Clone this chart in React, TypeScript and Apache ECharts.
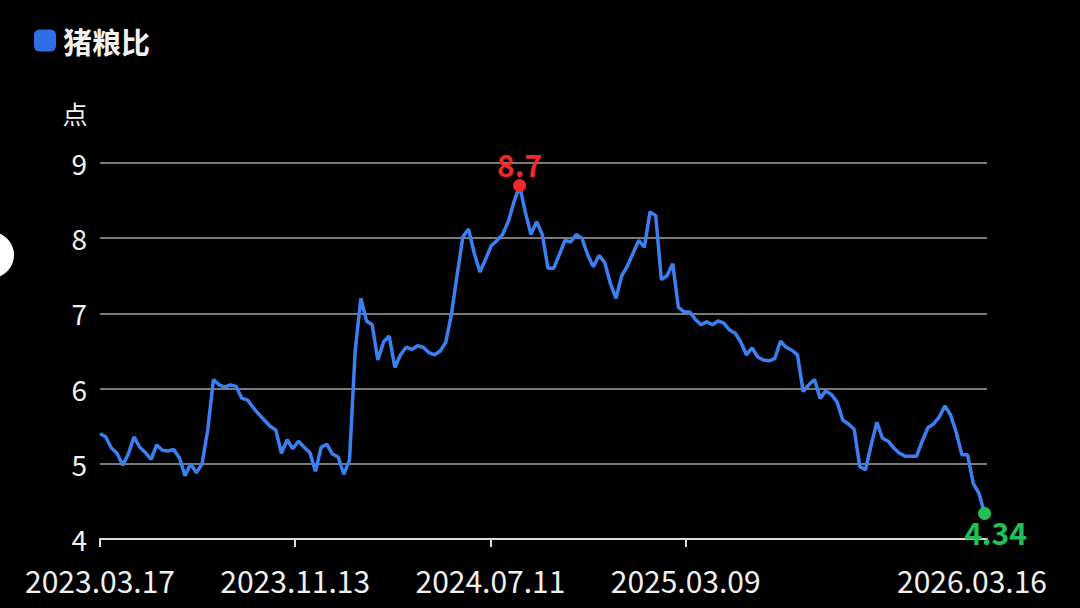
import React, { useEffect, useRef } from "react";
import * as echarts from "echarts";

// Weekly pig-grain ratio (猪粮比), first reading on 2023-03-17, one reading every 7 days
const SERIES_NAME = "猪粮比";
const Y_UNIT = "点";
const START_DATE = "2023-03-17";
const STEP_DAYS = 7;
const AXIS_END_DATE = "2026-03-16";
const X_LABEL_DATES = ["2023-03-17", "2023-11-13", "2024-07-11", "2025-03-09", "2026-03-16"];
const X_TICK_DATES = ["2023-03-17", "2023-11-13", "2024-07-11", "2025-03-09"];
const Y_MIN = 4;
const Y_MAX = 9;

const ratioValues = [
  5.40, 5.36, 5.21, 5.14, 4.98, 5.13, 5.36, 5.22, 5.15, 5.06,
  5.25, 5.18, 5.17, 5.19, 5.08, 4.84, 5.00, 4.88, 5.00, 5.45,
  6.12, 6.05, 6.02, 6.05, 6.03, 5.87, 5.85, 5.75, 5.66, 5.58,
  5.50, 5.45, 5.14, 5.32, 5.20, 5.30, 5.22, 5.15, 4.90, 5.22,
  5.26, 5.13, 5.09, 4.86, 5.05, 6.50, 7.20, 6.90, 6.85, 6.38,
  6.62, 6.70, 6.28, 6.45, 6.55, 6.52, 6.57, 6.55, 6.48, 6.45,
  6.50, 6.62, 7.00, 7.52, 8.02, 8.12, 7.80, 7.55, 7.72, 7.90,
  7.97, 8.05, 8.22, 8.48, 8.70, 8.35, 8.05, 8.22, 8.05, 7.60,
  7.60, 7.78, 7.97, 7.95, 8.05, 8.00, 7.78, 7.62, 7.77, 7.68,
  7.40, 7.20, 7.50, 7.63, 7.80, 7.97, 7.88, 8.35, 8.30, 7.45,
  7.50, 7.66, 7.08, 7.02, 7.02, 6.92, 6.85, 6.89, 6.85, 6.90,
  6.87, 6.78, 6.74, 6.62, 6.45, 6.54, 6.42, 6.38, 6.37, 6.40,
  6.63, 6.55, 6.51, 6.45, 5.96, 6.05, 6.12, 5.87, 5.97, 5.92,
  5.82, 5.58, 5.53, 5.46, 4.96, 4.92, 5.25, 5.55, 5.34, 5.30,
  5.21, 5.14, 5.10, 5.10, 5.10, 5.30, 5.48, 5.53, 5.62, 5.77,
  5.65, 5.42, 5.12, 5.12, 4.74, 4.61, 4.34,
];

const DAY_MS = 86400000;
const toTs = (s: string) => {
  const [y, m, d] = s.split("-").map(Number);
  return Date.UTC(y, m - 1, d);
};
const START_TS = toTs(START_DATE);
const toDay = (s: string) => Math.round((toTs(s) - START_TS) / DAY_MS);
const fmtDay = (day: number) => {
  const d = new Date(START_TS + day * DAY_MS);
  const p = (n: number) => String(n).padStart(2, "0");
  return `${d.getUTCFullYear()}.${p(d.getUTCMonth() + 1)}.${p(d.getUTCDate())}`;
};

const FONT = "'Noto Sans CJK SC', 'Noto Sans', sans-serif";

export default function App() {
  const ref = useRef<HTMLDivElement>(null);
  useEffect(() => {
    if (!ref.current) return;
    const chart = echarts.init(ref.current, null, { renderer: "svg" });
    const seriesData = ratioValues.map((v, i) => [i * STEP_DAYS, v]);
    const last = seriesData[seriesData.length - 1];
    const endDay = toDay(AXIS_END_DATE);
    const labelDays = X_LABEL_DATES.map(toDay);
    const tickDays = X_TICK_DATES.map(toDay);

    chart.setOption({
      animation: false,
      backgroundColor: "#000000",
      textStyle: { fontFamily: FONT },
      legend: {
        left: 29,
        top: 21,
        icon: "roundRect",
        itemWidth: 22,
        itemHeight: 22,
        data: [{ name: SERIES_NAME, itemStyle: { color: "#2f6fe6" } }],
        textStyle: {
          color: "#f2f2f2",
          fontSize: 29,
          fontWeight: "bold",
          fontFamily: FONT,
          padding: [0, 0, 0, 2],
        },
      },
      grid: { left: 100, right: 93, top: 163, bottom: 69, containLabel: false },
      xAxis: {
        type: "value",
        min: 0,
        max: endDay,
        axisLine: { show: true, lineStyle: { color: "#dcdcdc", width: 2 } },
        axisTick: {
          show: true,
          customValues: tickDays,
          length: 8,
          lineStyle: { color: "#dcdcdc", width: 2 },
        },
        splitLine: { show: false },
        axisLabel: {
          customValues: labelDays,
          color: "#f0f0f0",
          fontSize: 30,
          fontFamily: FONT,
          margin: 26,
          formatter: (v: number) => {
            const s = fmtDay(v);
            return v === endDay ? `{last|${s}}` : s;
          },
          rich: {
            last: {
              color: "#f0f0f0",
              fontSize: 30,
              fontFamily: FONT,
              padding: [0, 30, 0, 0],
            },
          },
        },
      },
      yAxis: {
        type: "value",
        min: Y_MIN,
        max: Y_MAX,
        interval: 1,
        name: Y_UNIT,
        nameLocation: "end",
        nameGap: 38,
        nameTextStyle: {
          color: "#f0f0f0",
          fontSize: 25,
          fontFamily: FONT,
          padding: [0, 50, 0, 0],
        },
        axisLine: { show: false },
        axisTick: { show: false },
        axisLabel: { color: "#f0f0f0", fontSize: 28, fontFamily: FONT, margin: 13 },
        splitLine: { show: true, lineStyle: { color: "#a3a3a3", width: 1.5 } },
      },
      graphic: [
        { type: "circle", shape: { cx: -9, cy: 255, r: 23 }, style: { fill: "#ffffff" } },
      ],
      series: [
        {
          name: SERIES_NAME,
          type: "line",
          data: seriesData,
          showSymbol: false,
          symbol: "none",
          lineStyle: { color: "#3b80f2", width: 3.5 },
          itemStyle: { color: "#3b80f2" },
          markPoint: {
            symbol: "circle",
            symbolSize: 13,
            data: [
              {
                type: "max",
                itemStyle: { color: "#f02a2a" },
                label: {
                  show: true,
                  position: "top",
                  distance: 0,
                  color: "#f02a2a",
                  fontSize: 30,
                  fontWeight: "bold",
                  fontFamily: FONT,
                  formatter: "{c}",
                },
              },
              {
                coord: last,
                value: last[1],
                itemStyle: { color: "#22c05a" },
                label: {
                  show: true,
                  position: "bottom",
                  distance: 0,
                  offset: [11, -3],
                  color: "#22c05a",
                  fontSize: 30,
                  fontWeight: "bold",
                  fontFamily: FONT,
                  formatter: "{c}",
                },
              },
            ],
          },
        },
      ],
    });
    return () => chart.dispose();
  }, []);
  return (
    <div
      ref={ref}
      style={{ position: "fixed", left: 0, top: 0, width: 1080, height: 608 }}
    />
  );
}
